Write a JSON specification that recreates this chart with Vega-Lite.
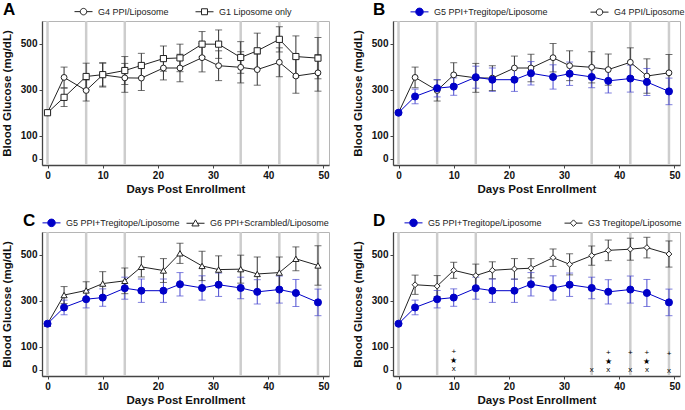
{
"$schema": "https://vega.github.io/schema/vega-lite/v6.json",
"padding": {"left": 0, "top": 0, "right": 0, "bottom": 0},
"background": "white",
"config": {
  "font": "Liberation Sans",
  "view": {"stroke": "#b5b5b5", "strokeWidth": 1},
  "axis": {"labelFont": "Liberation Sans", "labelFontWeight": "bold", "labelFontSize": 10, "labelColor": "#111", "titleFont": "Liberation Sans", "titleFontSize": 11.5, "titleFontWeight": "bold", "titleColor": "#111", "domainColor": "#444", "domainWidth": 1.3, "tickColor": "#444", "tickSize": 3, "grid": false, "labelOverlap": false},
  "legend": {"orient": "none", "direction": "horizontal", "title": null, "labelFont": "Liberation Sans", "labelFontSize": 9, "labelColor": "#222", "labelFontWeight": "normal", "labelOffset": 5, "symbolSize": 324, "symbolStrokeWidth": 1, "symbolOpacity": 1, "padding": 0},
  "title": {"font": "Liberation Sans", "fontSize": 17, "fontWeight": "bold", "color": "#000", "anchor": "start", "frame": "group"}
},
"datasets": {
  "glu": [
    {"s":"G4 PPI/Liposome","d":0,"m":200,"lo":200,"hi":200},
    {"s":"G4 PPI/Liposome","d":3,"m":354,"lo":309,"hi":399},
    {"s":"G4 PPI/Liposome","d":7,"m":297,"lo":251,"hi":343},
    {"s":"G4 PPI/Liposome","d":10,"m":365,"lo":312,"hi":418},
    {"s":"G4 PPI/Liposome","d":14,"m":352,"lo":289,"hi":415},
    {"s":"G4 PPI/Liposome","d":17,"m":351,"lo":297,"hi":405},
    {"s":"G4 PPI/Liposome","d":21,"m":395,"lo":343,"hi":447},
    {"s":"G4 PPI/Liposome","d":24,"m":395,"lo":335,"hi":455},
    {"s":"G4 PPI/Liposome","d":28,"m":440,"lo":378,"hi":502},
    {"s":"G4 PPI/Liposome","d":31,"m":405,"lo":340,"hi":470},
    {"s":"G4 PPI/Liposome","d":35,"m":398,"lo":330,"hi":466},
    {"s":"G4 PPI/Liposome","d":38,"m":388,"lo":320,"hi":456},
    {"s":"G4 PPI/Liposome","d":42,"m":420,"lo":357,"hi":483},
    {"s":"G4 PPI/Liposome","d":45,"m":360,"lo":285,"hi":435},
    {"s":"G4 PPI/Liposome","d":49,"m":374,"lo":294,"hi":454},
    {"s":"G1 Liposome only","d":0,"m":200,"lo":200,"hi":200},
    {"s":"G1 Liposome only","d":3,"m":267,"lo":227,"hi":307},
    {"s":"G1 Liposome only","d":7,"m":358,"lo":300,"hi":416},
    {"s":"G1 Liposome only","d":10,"m":366,"lo":316,"hi":416},
    {"s":"G1 Liposome only","d":14,"m":384,"lo":323,"hi":445},
    {"s":"G1 Liposome only","d":17,"m":406,"lo":353,"hi":459},
    {"s":"G1 Liposome only","d":21,"m":436,"lo":381,"hi":491},
    {"s":"G1 Liposome only","d":24,"m":439,"lo":379,"hi":499},
    {"s":"G1 Liposome only","d":28,"m":499,"lo":444,"hi":554},
    {"s":"G1 Liposome only","d":31,"m":499,"lo":437,"hi":561},
    {"s":"G1 Liposome only","d":35,"m":441,"lo":372,"hi":510},
    {"s":"G1 Liposome only","d":38,"m":470,"lo":393,"hi":547},
    {"s":"G1 Liposome only","d":42,"m":520,"lo":465,"hi":575},
    {"s":"G1 Liposome only","d":45,"m":445,"lo":355,"hi":535},
    {"s":"G1 Liposome only","d":49,"m":438,"lo":348,"hi":528},
    {"s":"G5 PPI+Tregitope/Liposome","d":0,"m":200,"lo":200,"hi":200},
    {"s":"G5 PPI+Tregitope/Liposome","d":3,"m":271,"lo":239,"hi":303},
    {"s":"G5 PPI+Tregitope/Liposome","d":7,"m":307,"lo":269,"hi":345},
    {"s":"G5 PPI+Tregitope/Liposome","d":10,"m":314,"lo":276,"hi":352},
    {"s":"G5 PPI+Tregitope/Liposome","d":14,"m":355,"lo":307,"hi":403},
    {"s":"G5 PPI+Tregitope/Liposome","d":17,"m":344,"lo":293,"hi":395},
    {"s":"G5 PPI+Tregitope/Liposome","d":21,"m":344,"lo":293,"hi":395},
    {"s":"G5 PPI+Tregitope/Liposome","d":24,"m":372,"lo":321,"hi":423},
    {"s":"G5 PPI+Tregitope/Liposome","d":28,"m":356,"lo":303,"hi":409},
    {"s":"G5 PPI+Tregitope/Liposome","d":31,"m":370,"lo":319,"hi":421},
    {"s":"G5 PPI+Tregitope/Liposome","d":35,"m":356,"lo":309,"hi":403},
    {"s":"G5 PPI+Tregitope/Liposome","d":38,"m":339,"lo":286,"hi":392},
    {"s":"G5 PPI+Tregitope/Liposome","d":42,"m":349,"lo":290,"hi":408},
    {"s":"G5 PPI+Tregitope/Liposome","d":45,"m":334,"lo":275,"hi":393},
    {"s":"G5 PPI+Tregitope/Liposome","d":49,"m":293,"lo":235,"hi":351},
    {"s":"G6 PPI+Scrambled/Liposome","d":0,"m":200,"lo":200,"hi":200},
    {"s":"G6 PPI+Scrambled/Liposome","d":3,"m":325,"lo":288,"hi":362},
    {"s":"G6 PPI+Scrambled/Liposome","d":7,"m":345,"lo":307,"hi":383},
    {"s":"G6 PPI+Scrambled/Liposome","d":10,"m":375,"lo":323,"hi":427},
    {"s":"G6 PPI+Scrambled/Liposome","d":14,"m":387,"lo":331,"hi":443},
    {"s":"G6 PPI+Scrambled/Liposome","d":17,"m":448,"lo":404,"hi":492},
    {"s":"G6 PPI+Scrambled/Liposome","d":21,"m":432,"lo":380,"hi":484},
    {"s":"G6 PPI+Scrambled/Liposome","d":24,"m":507,"lo":463,"hi":551},
    {"s":"G6 PPI+Scrambled/Liposome","d":28,"m":452,"lo":388,"hi":516},
    {"s":"G6 PPI+Scrambled/Liposome","d":31,"m":436,"lo":376,"hi":496},
    {"s":"G6 PPI+Scrambled/Liposome","d":35,"m":438,"lo":377,"hi":499},
    {"s":"G6 PPI+Scrambled/Liposome","d":38,"m":417,"lo":343,"hi":491},
    {"s":"G6 PPI+Scrambled/Liposome","d":42,"m":423,"lo":355,"hi":491},
    {"s":"G6 PPI+Scrambled/Liposome","d":45,"m":483,"lo":431,"hi":535},
    {"s":"G6 PPI+Scrambled/Liposome","d":49,"m":454,"lo":368,"hi":540},
    {"s":"G3 Tregitope/Liposome","d":0,"m":200,"lo":200,"hi":200},
    {"s":"G3 Tregitope/Liposome","d":3,"m":370,"lo":328,"hi":412},
    {"s":"G3 Tregitope/Liposome","d":7,"m":364,"lo":318,"hi":410},
    {"s":"G3 Tregitope/Liposome","d":10,"m":433,"lo":398,"hi":468},
    {"s":"G3 Tregitope/Liposome","d":14,"m":410,"lo":360,"hi":460},
    {"s":"G3 Tregitope/Liposome","d":17,"m":433,"lo":396,"hi":470},
    {"s":"G3 Tregitope/Liposome","d":21,"m":439,"lo":394,"hi":484},
    {"s":"G3 Tregitope/Liposome","d":24,"m":442,"lo":400,"hi":484},
    {"s":"G3 Tregitope/Liposome","d":28,"m":488,"lo":450,"hi":526},
    {"s":"G3 Tregitope/Liposome","d":31,"m":459,"lo":413,"hi":505},
    {"s":"G3 Tregitope/Liposome","d":35,"m":497,"lo":455,"hi":539},
    {"s":"G3 Tregitope/Liposome","d":38,"m":520,"lo":475,"hi":565},
    {"s":"G3 Tregitope/Liposome","d":42,"m":525,"lo":477,"hi":573},
    {"s":"G3 Tregitope/Liposome","d":45,"m":532,"lo":487,"hi":577},
    {"s":"G3 Tregitope/Liposome","d":49,"m":504,"lo":447,"hi":561}
  ],
  "inj": [{"d":0},{"d":7},{"d":14},{"d":35},{"d":42},{"d":49}],
  "sig": [
    {"d":10,"t":"+","v":75},{"d":10,"t":"★","v":38},{"d":10,"t":"x","v":3},
    {"d":35,"t":"x","v":-3},
    {"d":38,"t":"+","v":73},{"d":38,"t":"★","v":35},{"d":38,"t":"x","v":0},
    {"d":42,"t":"+","v":71},{"d":42,"t":"x","v":-3},
    {"d":45,"t":"+","v":71},{"d":45,"t":"★","v":33},{"d":45,"t":"x","v":-3},
    {"d":49,"t":"+","v":68},{"d":49,"t":"x","v":-6}
  ]
},
"columns": 2,
"spacing": {"row": 16, "column": 21},
"resolve": {
  "scale": {"stroke": "independent", "fill": "independent", "shape": "independent", "color": "independent"},
  "legend": {"stroke": "independent", "fill": "independent", "shape": "independent", "color": "independent"}
},
"concat": [
 {
  "width": 287, "height": 144,
  "title": {"text": "A", "dx": -39, "dy": 30, "offset": 0, "baseline": "alphabetic"},
  "layer": [
   {"data": {"name": "inj"}, "mark": {"type": "rule", "color": "#cdcdcd", "strokeWidth": 2.5},
    "encoding": {"x": {"field": "d", "type": "quantitative", "scale": {"domain": [-1, 51], "nice": false, "zero": false},
      "axis": {"values": [0,10,20,30,40,50], "title": "Days Post Enrollment", "labelPadding": 2, "titlePadding": 3}}}},
   {"data": {"name": "glu"}, "transform": [{"filter": {"field": "s", "oneOf": ["G4 PPI/Liposome", "G1 Liposome only"]}}],
    "encoding": {"x": {"field": "d", "type": "quantitative"}},
    "layer": [
     {"mark": {"type": "rule", "strokeWidth": 1},
      "encoding": {"y": {"field": "lo", "type": "quantitative", "scale": {"domain": [-28, 600], "nice": false, "zero": false},
        "axis": {"values": [0,100,300,500], "labelOverlap": false, "title": "Blood Glucose (mg/dL)", "labelPadding": 2, "titlePadding": 8}},
        "y2": {"field": "hi"},
        "color": {"field": "s", "type": "nominal", "scale": {"domain": ["G1 Liposome only", "G4 PPI/Liposome"], "range": ["#333333", "#333333"]}, "legend": null}}},
     {"mark": {"type": "tick", "orient": "horizontal", "size": 7, "thickness": 1},
      "encoding": {"y": {"field": "lo", "type": "quantitative"}, "color": {"field": "s", "type": "nominal", "legend": null}}},
     {"mark": {"type": "tick", "orient": "horizontal", "size": 7, "thickness": 1},
      "encoding": {"y": {"field": "hi", "type": "quantitative"}, "color": {"field": "s", "type": "nominal", "legend": null}}},
     {"mark": {"type": "line", "strokeWidth": 1},
      "encoding": {"y": {"field": "m", "type": "quantitative"},
        "stroke": {"field": "s", "type": "nominal", "scale": {"domain": ["G4 PPI/Liposome", "G1 Liposome only"], "range": ["#222222", "#222222"]},
          "legend": {"legendX": 32, "legendY": -19, "columnPadding": 24}}}},
     {"mark": {"type": "point", "opacity": 0},
      "encoding": {"y": {"field": "m", "type": "quantitative"},
        "fill": {"field": "s", "type": "nominal", "scale": {"domain": ["G4 PPI/Liposome", "G1 Liposome only"], "range": ["#ffffff", "#ffffff"]}},
        "shape": {"field": "s", "type": "nominal", "scale": {"domain": ["G4 PPI/Liposome", "G1 Liposome only"], "range": ["M-1,0L-0.36,0M0.36,0L1,0M0.36,0A0.36,0.36 0 1,1 -0.36,0A0.36,0.36 0 1,1 0.36,0Z", "M-1,0L-0.33,0M0.33,0L1,0M-0.33,-0.33L0.33,-0.33L0.33,0.33L-0.33,0.33Z"]},
          "legend": {"legendX": 32, "legendY": -19, "columnPadding": 24}}}},
     {"transform": [{"filter": {"field": "s", "equal": "G4 PPI/Liposome"}}],
      "mark": {"type": "point", "shape": "circle", "filled": true, "fill": "#ffffff", "stroke": "#222222", "strokeWidth": 1, "size": 34, "opacity": 1},
      "encoding": {"y": {"field": "m", "type": "quantitative"}}},
     {"transform": [{"filter": {"field": "s", "equal": "G1 Liposome only"}}],
      "mark": {"type": "point", "shape": "square", "filled": true, "fill": "#ffffff", "stroke": "#222222", "strokeWidth": 1, "size": 38, "opacity": 1},
      "encoding": {"y": {"field": "m", "type": "quantitative"}}}
    ]}
  ]
 },
 {
  "width": 287, "height": 144,
  "title": {"text": "B", "dx": -20, "dy": 30, "offset": 0, "baseline": "alphabetic"},
  "layer": [
   {"data": {"name": "inj"}, "mark": {"type": "rule", "color": "#cdcdcd", "strokeWidth": 2.5},
    "encoding": {"x": {"field": "d", "type": "quantitative", "scale": {"domain": [-1, 51], "nice": false, "zero": false},
      "axis": {"values": [0,10,20,30,40,50], "title": "Days Post Enrollment", "labelPadding": 2, "titlePadding": 3}}}},
   {"data": {"name": "glu"}, "transform": [{"filter": {"field": "s", "oneOf": ["G5 PPI+Tregitope/Liposome", "G4 PPI/Liposome"]}}],
    "encoding": {"x": {"field": "d", "type": "quantitative"}},
    "layer": [
     {"mark": {"type": "rule", "strokeWidth": 1},
      "encoding": {"y": {"field": "lo", "type": "quantitative", "scale": {"domain": [-28, 600], "nice": false, "zero": false},
        "axis": {"values": [0,100,300,500], "labelOverlap": false, "title": "Blood Glucose (mg/dL)", "labelPadding": 2, "titlePadding": 8}},
        "y2": {"field": "hi"},
        "color": {"field": "s", "type": "nominal", "scale": {"domain": ["G4 PPI/Liposome", "G5 PPI+Tregitope/Liposome"], "range": ["#333333", "#4a4ad0"]}, "legend": null}}},
     {"mark": {"type": "tick", "orient": "horizontal", "size": 7, "thickness": 1},
      "encoding": {"y": {"field": "lo", "type": "quantitative"}, "color": {"field": "s", "type": "nominal", "legend": null}}},
     {"mark": {"type": "tick", "orient": "horizontal", "size": 7, "thickness": 1},
      "encoding": {"y": {"field": "hi", "type": "quantitative"}, "color": {"field": "s", "type": "nominal", "legend": null}}},
     {"mark": {"type": "line", "strokeWidth": 1},
      "encoding": {"y": {"field": "m", "type": "quantitative"},
        "stroke": {"field": "s", "type": "nominal", "scale": {"domain": ["G5 PPI+Tregitope/Liposome", "G4 PPI/Liposome"], "range": ["#0000c8", "#222222"]},
          "legend": {"legendX": 17, "legendY": -19, "columnPadding": 40}}}},
     {"mark": {"type": "point", "opacity": 0},
      "encoding": {"y": {"field": "m", "type": "quantitative"},
        "fill": {"field": "s", "type": "nominal", "scale": {"domain": ["G5 PPI+Tregitope/Liposome", "G4 PPI/Liposome"], "range": ["#0000c8", "#ffffff"]}},
        "shape": {"field": "s", "type": "nominal", "scale": {"domain": ["G5 PPI+Tregitope/Liposome", "G4 PPI/Liposome"], "range": ["M-1,0L-0.42,0M0.42,0L1,0M0.42,0A0.42,0.42 0 1,1 -0.42,0A0.42,0.42 0 1,1 0.42,0Z", "M-1,0L-0.36,0M0.36,0L1,0M0.36,0A0.36,0.36 0 1,1 -0.36,0A0.36,0.36 0 1,1 0.36,0Z"]},
          "legend": {"legendX": 17, "legendY": -19, "columnPadding": 40}}}},
     {"transform": [{"filter": {"field": "s", "equal": "G4 PPI/Liposome"}}],
      "mark": {"type": "point", "shape": "circle", "filled": true, "fill": "#ffffff", "stroke": "#222222", "strokeWidth": 1, "size": 34, "opacity": 1},
      "encoding": {"y": {"field": "m", "type": "quantitative"}}},
     {"transform": [{"filter": {"field": "s", "equal": "G5 PPI+Tregitope/Liposome"}}],
      "mark": {"type": "point", "shape": "circle", "filled": true, "fill": "#0000c8", "stroke": "#0000c8", "strokeWidth": 1, "size": 50, "opacity": 1},
      "encoding": {"y": {"field": "m", "type": "quantitative"}}}
    ]}
  ]
 },
 {
  "width": 287, "height": 144,
  "title": {"text": "C", "dx": -19, "dy": 30, "offset": 0, "baseline": "alphabetic"},
  "layer": [
   {"data": {"name": "inj"}, "mark": {"type": "rule", "color": "#cdcdcd", "strokeWidth": 2.5},
    "encoding": {"x": {"field": "d", "type": "quantitative", "scale": {"domain": [-1, 51], "nice": false, "zero": false},
      "axis": {"values": [0,10,20,30,40,50], "title": "Days Post Enrollment", "labelPadding": 2, "titlePadding": 3}}}},
   {"data": {"name": "glu"}, "transform": [{"filter": {"field": "s", "oneOf": ["G5 PPI+Tregitope/Liposome", "G6 PPI+Scrambled/Liposome"]}}],
    "encoding": {"x": {"field": "d", "type": "quantitative"}},
    "layer": [
     {"mark": {"type": "rule", "strokeWidth": 1},
      "encoding": {"y": {"field": "lo", "type": "quantitative", "scale": {"domain": [-28, 600], "nice": false, "zero": false},
        "axis": {"values": [0,100,300,500], "labelOverlap": false, "title": "Blood Glucose (mg/dL)", "labelPadding": 2, "titlePadding": 8}},
        "y2": {"field": "hi"},
        "color": {"field": "s", "type": "nominal", "scale": {"domain": ["G6 PPI+Scrambled/Liposome", "G5 PPI+Tregitope/Liposome"], "range": ["#333333", "#4a4ad0"]}, "legend": null}}},
     {"mark": {"type": "tick", "orient": "horizontal", "size": 7, "thickness": 1},
      "encoding": {"y": {"field": "lo", "type": "quantitative"}, "color": {"field": "s", "type": "nominal", "legend": null}}},
     {"mark": {"type": "tick", "orient": "horizontal", "size": 7, "thickness": 1},
      "encoding": {"y": {"field": "hi", "type": "quantitative"}, "color": {"field": "s", "type": "nominal", "legend": null}}},
     {"mark": {"type": "line", "strokeWidth": 1},
      "encoding": {"y": {"field": "m", "type": "quantitative"},
        "stroke": {"field": "s", "type": "nominal", "scale": {"domain": ["G5 PPI+Tregitope/Liposome", "G6 PPI+Scrambled/Liposome"], "range": ["#0000c8", "#222222"]},
          "legend": {"legendX": 0, "legendY": -19, "columnPadding": 4}}}},
     {"mark": {"type": "point", "opacity": 0},
      "encoding": {"y": {"field": "m", "type": "quantitative"},
        "fill": {"field": "s", "type": "nominal", "scale": {"domain": ["G5 PPI+Tregitope/Liposome", "G6 PPI+Scrambled/Liposome"], "range": ["#0000c8", "#ffffff"]}},
        "shape": {"field": "s", "type": "nominal", "scale": {"domain": ["G5 PPI+Tregitope/Liposome", "G6 PPI+Scrambled/Liposome"], "range": ["M-1,0L-0.42,0M0.42,0L1,0M0.42,0A0.42,0.42 0 1,1 -0.42,0A0.42,0.42 0 1,1 0.42,0Z", "M-1,0L-0.22,0M0.22,0L1,0M0,-0.38L0.4,0.3L-0.4,0.3Z"]},
          "legend": {"legendX": 0, "legendY": -19, "columnPadding": 4}}}},
     {"transform": [{"filter": {"field": "s", "equal": "G6 PPI+Scrambled/Liposome"}}],
      "mark": {"type": "point", "shape": "triangle-up", "filled": true, "fill": "#ffffff", "stroke": "#222222", "strokeWidth": 1, "size": 38, "opacity": 1},
      "encoding": {"y": {"field": "m", "type": "quantitative"}}},
     {"transform": [{"filter": {"field": "s", "equal": "G5 PPI+Tregitope/Liposome"}}],
      "mark": {"type": "point", "shape": "circle", "filled": true, "fill": "#0000c8", "stroke": "#0000c8", "strokeWidth": 1, "size": 50, "opacity": 1},
      "encoding": {"y": {"field": "m", "type": "quantitative"}}}
    ]}
  ]
 },
 {
  "width": 287, "height": 144,
  "title": {"text": "D", "dx": -20, "dy": 30, "offset": 0, "baseline": "alphabetic"},
  "layer": [
   {"data": {"name": "inj"}, "mark": {"type": "rule", "color": "#cdcdcd", "strokeWidth": 2.5},
    "encoding": {"x": {"field": "d", "type": "quantitative", "scale": {"domain": [-1, 51], "nice": false, "zero": false},
      "axis": {"values": [0,10,20,30,40,50], "title": "Days Post Enrollment", "labelPadding": 2, "titlePadding": 3}}}},
   {"data": {"name": "sig"}, "mark": {"type": "text", "fontSize": 8, "fill": "#000000"},
    "encoding": {"x": {"field": "d", "type": "quantitative"}, "y": {"field": "v", "type": "quantitative"}, "text": {"field": "t"}}},
   {"data": {"name": "glu"}, "transform": [{"filter": {"field": "s", "oneOf": ["G5 PPI+Tregitope/Liposome", "G3 Tregitope/Liposome"]}}],
    "encoding": {"x": {"field": "d", "type": "quantitative"}},
    "layer": [
     {"mark": {"type": "rule", "strokeWidth": 1},
      "encoding": {"y": {"field": "lo", "type": "quantitative", "scale": {"domain": [-28, 600], "nice": false, "zero": false},
        "axis": {"values": [0,100,300,500], "labelOverlap": false, "title": "Blood Glucose (mg/dL)", "labelPadding": 2, "titlePadding": 8}},
        "y2": {"field": "hi"},
        "color": {"field": "s", "type": "nominal", "scale": {"domain": ["G3 Tregitope/Liposome", "G5 PPI+Tregitope/Liposome"], "range": ["#333333", "#4a4ad0"]}, "legend": null}}},
     {"mark": {"type": "tick", "orient": "horizontal", "size": 7, "thickness": 1},
      "encoding": {"y": {"field": "lo", "type": "quantitative"}, "color": {"field": "s", "type": "nominal", "legend": null}}},
     {"mark": {"type": "tick", "orient": "horizontal", "size": 7, "thickness": 1},
      "encoding": {"y": {"field": "hi", "type": "quantitative"}, "color": {"field": "s", "type": "nominal", "legend": null}}},
     {"mark": {"type": "line", "strokeWidth": 1},
      "encoding": {"y": {"field": "m", "type": "quantitative"},
        "stroke": {"field": "s", "type": "nominal", "scale": {"domain": ["G5 PPI+Tregitope/Liposome", "G3 Tregitope/Liposome"], "range": ["#0000c8", "#222222"]},
          "legend": {"legendX": 11, "legendY": -19, "columnPadding": 20}}}},
     {"mark": {"type": "point", "opacity": 0},
      "encoding": {"y": {"field": "m", "type": "quantitative"},
        "fill": {"field": "s", "type": "nominal", "scale": {"domain": ["G5 PPI+Tregitope/Liposome", "G3 Tregitope/Liposome"], "range": ["#0000c8", "#ffffff"]}},
        "shape": {"field": "s", "type": "nominal", "scale": {"domain": ["G5 PPI+Tregitope/Liposome", "G3 Tregitope/Liposome"], "range": ["M-1,0L-0.42,0M0.42,0L1,0M0.42,0A0.42,0.42 0 1,1 -0.42,0A0.42,0.42 0 1,1 0.42,0Z", "M-1,0L-0.36,0M0.36,0L1,0M0,-0.36L0.36,0L0,0.36L-0.36,0Z"]},
          "legend": {"legendX": 11, "legendY": -19, "columnPadding": 20}}}},
     {"transform": [{"filter": {"field": "s", "equal": "G3 Tregitope/Liposome"}}],
      "mark": {"type": "point", "shape": "diamond", "filled": true, "fill": "#ffffff", "stroke": "#222222", "strokeWidth": 1, "size": 34, "opacity": 1},
      "encoding": {"y": {"field": "m", "type": "quantitative"}}},
     {"transform": [{"filter": {"field": "s", "equal": "G5 PPI+Tregitope/Liposome"}}],
      "mark": {"type": "point", "shape": "circle", "filled": true, "fill": "#0000c8", "stroke": "#0000c8", "strokeWidth": 1, "size": 50, "opacity": 1},
      "encoding": {"y": {"field": "m", "type": "quantitative"}}}
    ]}
  ]
 }
]
}
